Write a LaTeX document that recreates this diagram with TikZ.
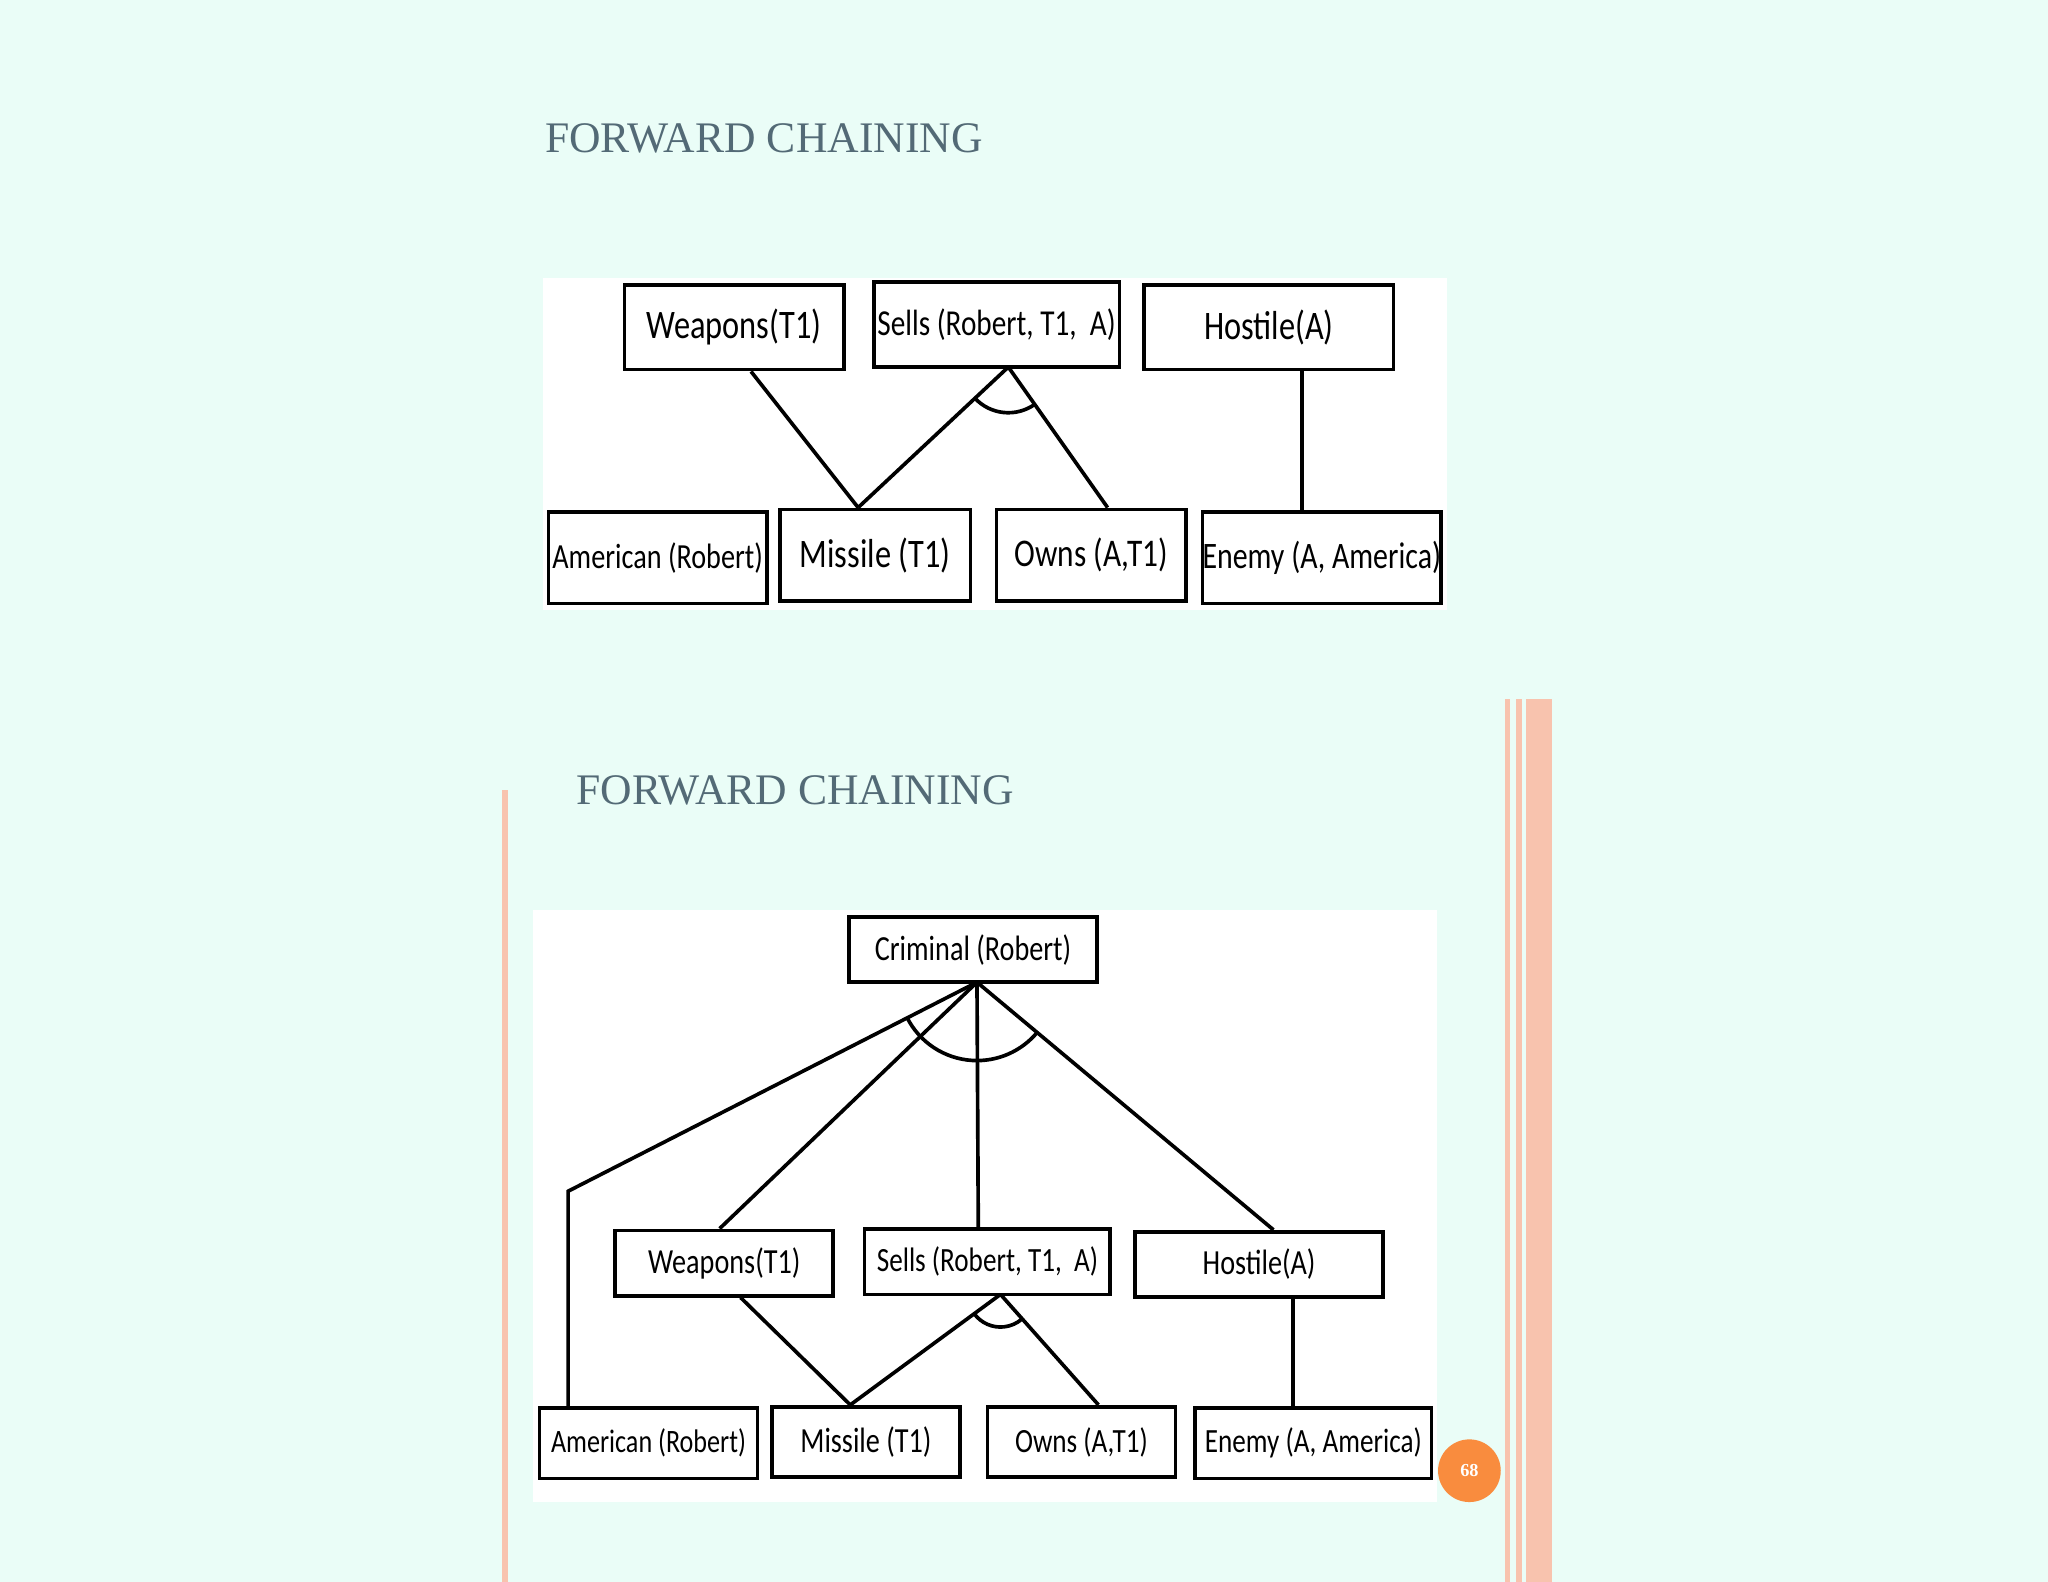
\documentclass[tikz,border=0pt]{standalone}
\usepackage{fontspec}
\setmainfont{Liberation Serif}
\newfontfamily\boxfont[FakeStretch=0.8]{Carlito}
\definecolor{bg}{HTML}{EAFDF7}
\definecolor{ttl}{HTML}{536A76}
\definecolor{salmon}{HTML}{F8C3AE}
\definecolor{orng}{HTML}{F98C3E}
\begin{document}
\begin{tikzpicture}[x=0.5pt,y=-0.5pt,
  bx/.style={draw=black,line width=1.4pt,fill=white,inner sep=0pt,font=\boxfont},
  ln/.style={line width=1.4pt},
  ttlst/.style={text=ttl,font=\fontsize{16.7}{18}\selectfont,anchor=west,inner sep=0pt}]
\fill[bg] (0,0) rectangle (1568,1211);
\useasboundingbox (0,0) rectangle (1568,1211);
% salmon bars
\fill[salmon] (384,605) rectangle (389,1211);
\fill[salmon] (1152,535) rectangle (1156,1211);
\fill[salmon] (1161,535) rectangle (1165,1211);
\fill[salmon] (1168,535) rectangle (1188,1211);
% titles
\node[ttlst] (t1) at (417,106) {FORWARD CHAINING};
\node[ttlst] (t2) at (441,605) {FORWARD CHAINING};
% panels
\fill[white] (416,213) rectangle (1108,467);
\fill[white] (408,697) rectangle (1100,1150);
\newcommand{\bxx}[7]{\node[bx,minimum width={(#4-#2)*0.5pt},minimum height={(#5-#3)*0.5pt},font=\boxfont\fontsize{#7}{#7}\selectfont] (#1) at ({(#2+#4)/2},{(#3+#5)/2}) {#6};}
% top diagram
\bxx{aw}{478}{218}{646}{283}{Weapons(T1)}{15.5}
\bxx{as}{669}{216}{857}{281}{Sells (Robert, T1,\ \ A)}{14}
\bxx{ah}{876}{218}{1067}{283}{Hostile(A)}{15.5}
\bxx{aa}{420}{392}{587}{462}{American (Robert)}{13.5}
\bxx{am}{597}{390}{743}{460}{Missile (T1)}{15.5}
\bxx{ao}{763}{390}{908}{460}{Owns (A,T1)}{15}
\bxx{ae}{921}{392}{1103}{462}{Enemy (A, America)}{14.3}
\coordinate (ap) at (772,281);
\draw[ln] (575,0 |- aw.south) -- (657,0 |- am.north);
\draw[ln] (ap) -- (657,0 |- am.north);
\draw[ln] (ap) -- (848,0 |- ao.north);
\draw[ln] (997,0 |- ah.south) -- (997,0 |- ae.north);
\draw[ln,shift={(ap)}] (222.9:17.5pt) arc[start angle=222.9,end angle=305.4,radius=17.5pt];
% bottom diagram
\bxx{cr}{650}{702}{840}{752}{Criminal (Robert)}{13.5}
\bxx{bw}{471}{942}{638}{992}{Weapons(T1)}{13.5}
\bxx{bs}{662}{941}{850}{991}{Sells (Robert, T1,\ \ A)}{13}
\bxx{bh}{869}{943}{1059}{993}{Hostile(A)}{13.5}
\bxx{ba}{413}{1078}{580}{1132}{American (Robert)}{12.5}
\bxx{bm}{591}{1077}{735}{1131}{Missile (T1)}{13.5}
\bxx{bo}{756}{1077}{900}{1131}{Owns (A,T1)}{13}
\bxx{be}{915}{1078}{1096}{1132}{Enemy (A, America)}{13}
\coordinate (cp) at (748,752);
\coordinate (bend) at (435,912);
\draw[ln] (cp) -- (bend) -- (435,0 |- ba.north);
\draw[ln] (cp) -- (551,0 |- bw.north);
\draw[ln] (cp) -- (749,0 |- bs.north);
\draw[ln] (cp) -- (975,0 |- bh.north);
\draw[ln,shift={(cp)}] (206.6:30pt) arc[start angle=206.6,end angle=320.5,radius=30pt];
\coordinate (sp) at (766,991);
\draw[ln] (567,0 |- bw.south) -- (651,0 |- bm.north);
\draw[ln] (sp) -- (651,0 |- bm.north);
\draw[ln] (sp) -- (841,0 |- bo.north);
\draw[ln] (990,0 |- bh.south) -- (990,0 |- be.north);
\draw[ln,shift={(sp)}] (216.5:12.5pt) arc[start angle=216.5,end angle=311.4,radius=12.5pt];
% page number
\node[circle,fill=orng,minimum size=24pt,inner sep=0pt,text=white,font=\bfseries\fontsize{7}{8}\selectfont] (pg) at (1125,1126) {68};
\end{tikzpicture}
\end{document}
